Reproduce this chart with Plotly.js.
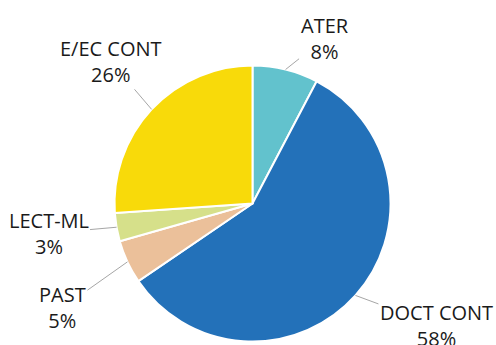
<!DOCTYPE html>
<html>
<head>
<meta charset="utf-8">
<script src="https://cdn.plot.ly/plotly-3.0.1.min.js"></script>
<style>html,body{margin:0;padding:0;background:#fff;}#chart{width:496px;height:345px;}</style>
</head>
<body>
<div id="chart"></div>
<script>
// ---- data ----
const categories = ["ATER", "DOCT CONT", "PAST", "LECT-ML", "E/EC CONT"];
const values = [7.7, 57.8, 5.1, 3.3, 26.1];
const pctLabels = ["8%", "58%", "5%", "3%", "26%"];

// ---- style ----
const colors = ["#62C2CD", "#2371B9", "#EBC09A", "#D6E08A", "#F8DA0A"];
const labelOffsets = [[39, -31], [81, 30], [-65, 46], [-68, 6], [-41, -48]]; // px from slice edge to label centre

const W = 496, H = 345;
const dom = {x: [114.5 / W, 390.5 / W], y: [3.5 / H, 279.5 / H]};
const cx = (dom.x[0] + dom.x[1]) / 2, cy = (dom.y[0] + dom.y[1]) / 2;
const rPx = Math.min((dom.x[1] - dom.x[0]) * W, (dom.y[1] - dom.y[0]) * H) / 2;

const total = values.reduce((a, b) => a + b, 0);
let cum = 0;
const annotations = categories.map((c, i) => {
  const mid = (cum + values[i] / 2) / total * 2 * Math.PI;
  cum += values[i];
  const px = cx + rPx * Math.sin(mid) / W;
  const py = cy + rPx * Math.cos(mid) / H;
  return {
    x: px, y: py, xref: "paper", yref: "paper",
    text: c + "<br>" + pctLabels[i],
    showarrow: true, arrowhead: 0, arrowwidth: 1, arrowcolor: "#A6A6A6",
    ax: labelOffsets[i][0], ay: labelOffsets[i][1],
    standoff: 0, startstandoff: 0,
    font: {family: "Open Sans, sans-serif", size: 20, color: "#1a1a1a"},
    align: "center"
  };
});

const trace = {
  type: "pie",
  labels: categories,
  values: values,
  sort: false,
  direction: "clockwise",
  rotation: 0,
  textinfo: "none",
  hoverinfo: "none",
  marker: {colors: colors, line: {color: "#ffffff", width: 2}},
  domain: dom
};

const layout = {
  width: W, height: H,
  margin: {l: 0, r: 0, t: 0, b: 0},
  paper_bgcolor: "#ffffff",
  showlegend: false,
  annotations: annotations
};

Plotly.newPlot("chart", [trace], layout, {displayModeBar: false, staticPlot: true});
</script>
</body>
</html>
